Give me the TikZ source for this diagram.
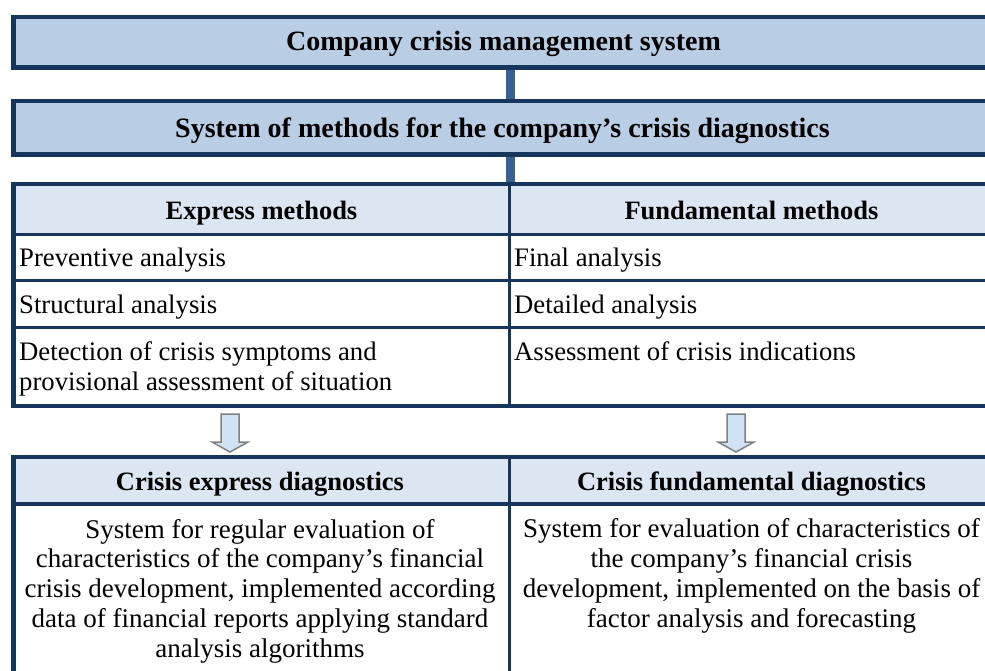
\documentclass[tikz,border=0pt]{standalone}
\usepackage{fontspec}
\setmainfont{Liberation Serif}
\usetikzlibrary{backgrounds}
\definecolor{navy}{RGB}{23,54,93}
\definecolor{titlefill}{RGB}{185,205,229}
\definecolor{headfill}{RGB}{220,230,242}
\definecolor{barblue}{RGB}{56,96,146}
\definecolor{arrowfill}{RGB}{207,227,245}
\definecolor{arrowline}{RGB}{128,128,128}
\begin{document}
\begin{tikzpicture}[x=1pt,y=-1pt,
  frame/.style={draw=navy, line width=4.5pt, inner sep=0pt, outer sep=0pt},
  titlebox/.style={frame, fill=titlefill, minimum width=980.5pt},
  rowline/.style={draw=navy, line width=3.5pt},
  midline/.style={draw=navy, line width=3.5pt},
  bar/.style={draw=barblue, line width=9pt},
  blockarrow/.style={draw=arrowline, fill=arrowfill, line width=1.5pt, line join=miter},
  ttl/.style={inner sep=0pt, font=\fontsize{28}{32}\selectfont\bfseries},
  hdr/.style={inner sep=0pt, font=\fontsize{26.5}{30}\selectfont\bfseries},
  txt/.style={inner sep=0pt, font=\fontsize{26.7}{30}\selectfont},
  body/.style={inner sep=0pt, align=center, font=\fontsize{27}{29.7}\selectfont}
]
\useasboundingbox (0,0) rectangle (985,671);
\clip (0,0) rectangle (985,671);

% title boxes
\node[titlebox, minimum height=50.5pt] (cms) at (503.75,42.25) {};
\node[titlebox, minimum height=53.5pt] (sm) at (503.75,127.75) {};

% table 1
\fill[headfill] (13.5,184) rectangle (994,234.5);
\draw[rowline] (13.5,234.5) -- (994,234.5);
\draw[rowline] (13.5,280.5) -- (994,280.5);
\draw[rowline] (13.5,327.5) -- (994,327.5);
\draw[midline] (509.5,184) -- (509.5,406);
\node[frame, minimum width=980.5pt, minimum height=222pt] (t1) at (503.75,295) {};

% table 2
\fill[headfill] (13.5,457) rectangle (994,504);
\draw[rowline] (13.5,504) -- (994,504);
\draw[midline] (509.5,457) -- (509.5,690);
\node[frame, minimum width=980.5pt, minimum height=233pt] (t2) at (503.75,573.5) {};

% connectors
\coordinate (mid) at (510.5,0);
\begin{scope}[on background layer]
\draw[bar] (cms.south -| mid) -- (sm.north -| mid);
\draw[bar] (sm.south -| mid) -- (t1.north -| mid);
\end{scope}

% block arrows
\coordinate (aL) at (230,414);
\coordinate (aR) at (736,414);
\draw[blockarrow] (aL) ++(-9,0) -- ++(18,0) -- ++(0,28) -- ++(9,0) -- ++(-18,10) -- ++(-18,-10) -- ++(9,0) -- cycle;
\draw[blockarrow] (aR) ++(-9,0) -- ++(18,0) -- ++(0,28) -- ++(9,0) -- ++(-18,10) -- ++(-18,-10) -- ++(9,0) -- cycle;

% texts
\node[ttl, anchor=base] (cmsT) at (503.5,51) {Company crisis management system};
\node[ttl, anchor=base] (smT) at (502.5,138) {System of methods for the company’s crisis diagnostics};

\node[hdr, anchor=base] (exH) at (261.5,220) {Express methods};
\node[hdr, anchor=base] (fmH) at (751.5,220) {Fundamental methods};

\node[txt, anchor=base west] (r1a) at (19,266) {Preventive analysis};
\node[txt, anchor=base west] (r1b) at (514,266) {Final analysis};
\node[txt, anchor=base west] (r2a) at (19,313) {Structural analysis};
\node[txt, anchor=base west] (r2b) at (514,313) {Detailed analysis};
\node[txt, anchor=base west, align=left] (r3a) at (19,390) {Detection of crisis symptoms and\\provisional assessment of situation};
\node[txt, anchor=base west] (r3b) at (514,360) {Assessment of crisis indications};

\node[hdr, anchor=base] (edH) at (260,490) {Crisis express diagnostics};
\node[hdr, anchor=base] (fdH) at (751.5,490) {Crisis fundamental diagnostics};

\node[body, anchor=base] (edB) at (260,657) {System for regular evaluation of\\characteristics of the company’s financial\\crisis development, implemented according\\data of financial reports applying standard\\analysis algorithms};
\node[body, anchor=base] (fdB) at (751.5,627) {System for evaluation of characteristics of\\the company’s financial crisis\\development, implemented on the basis of\\factor analysis and forecasting};
\end{tikzpicture}
\end{document}
